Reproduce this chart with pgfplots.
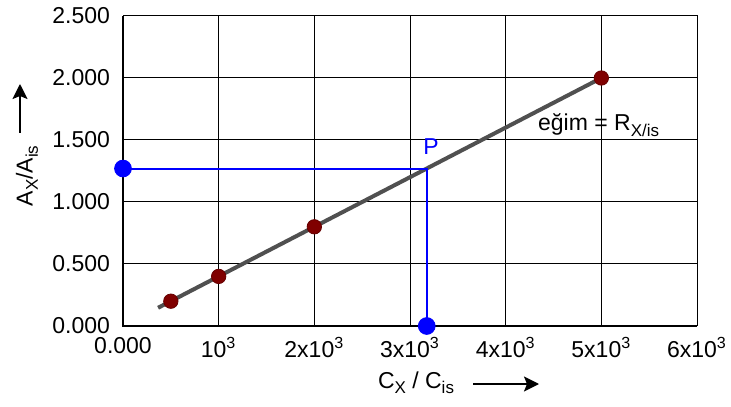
\documentclass[border=0pt]{standalone}
\usepackage{fontspec}
\setmainfont{Liberation Sans}
\usepackage{pgfplots}
\pgfplotsset{compat=1.18}
\usetikzlibrary{arrows.meta}
\definecolor{dotred}{HTML}{800000}
\definecolor{linegray}{HTML}{505050}
\newcommand{\fs}{\fontsize{11.5}{13.5}\selectfont}
\newcommand{\sub}[1]{\raisebox{-2.6pt}{\fontsize{8.5}{9}\selectfont #1}}
\begin{document}
\begin{tikzpicture}
\useasboundingbox (-61.5pt,-40pt) rectangle (304pt,163pt);
\begin{axis}[
  at={(0,0)}, anchor=south west,
  scale only axis, width=287pt, height=155pt,
  xmin=0, xmax=6000, ymin=0, ymax=2.5,
  axis line style={line width=0.5pt, black},
  grid=major, grid style={black, line width=0.5pt},
  xtick={0,1000,2000,3000,4000,5000,6000},
  xticklabels={0.000,10\textsuperscript{3},2x10\textsuperscript{3},3x10\textsuperscript{3},4x10\textsuperscript{3},5x10\textsuperscript{3},6x10\textsuperscript{3}},
  ytick={0,0.5,1,1.5,2,2.5},
  yticklabels={0.000,0.500,1.000,1.500,2.000,2.500},
  major tick length=0pt,
  ticklabel style={font=\fs},
  xticklabel style={anchor=north, yshift=-2pt},
  yticklabel style={anchor=east, xshift=-3pt},
  clip=false,
]
\draw[line width=1.2pt, black] (axis cs:0,2.5) -- (axis cs:0,0) -- (axis cs:6000,0);
% regression line
\addplot[linegray, line width=2pt, no markers] coordinates {(367,0.147) (5000,2.0)};
% blue construction lines
\addplot[blue, line width=1pt, no markers] coordinates {(0,1.27) (3175,1.27) (3175,0)};
% data points
\addplot[only marks, mark=*, mark size=3.6pt, mark options={fill=dotred, draw=dotred!80!black}] coordinates {
(500,0.2) (1000,0.4) (2000,0.8) (5000,2.0)};
% blue points
\addplot[only marks, mark=*, mark size=4.2pt, mark options={fill=blue, draw=blue}] coordinates {
(0,1.27) (3175,0)};
\node[anchor=west, font=\fs, inner sep=0pt] at (axis cs:4335,1.62) {eğim = R\sub{X/is}};
\node[font=\fs, text=blue, inner sep=0pt] at (axis cs:3220,1.45) {P};
\end{axis}
\node[rotate=90, font=\fs] at (-48pt,75pt) {A\sub{X}/A\sub{is}};
\draw[line width=1pt, -{Stealth[length=7.5pt,width=7.5pt,inset=1.5pt]}] (-51.5pt,96.5pt) -- (-51.5pt,121pt);
\node[font=\fs] at (146.5pt,-28.5pt) {C\sub{X} / C\sub{is}};
\draw[line width=1pt, -{Stealth[length=7.5pt,width=7.5pt,inset=1.5pt]}] (175pt,-29pt) -- (208pt,-29pt);
\end{tikzpicture}
\end{document}
